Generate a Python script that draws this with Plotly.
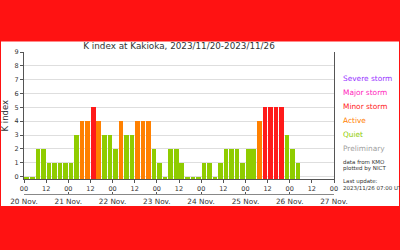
import plotly.graph_objects as go
import pandas as pd

# ---------------- data ----------------
period_start = "2023-11-20 00:00"
period_end = "2023-11-27 00:00"
k_nov20 = [0, 0, 2, 2, 1, 1, 1, 1]
k_nov21 = [1, 3, 4, 4, 5, 4, 3, 3]
k_nov22 = [2, 4, 3, 3, 4, 4, 4, 2]
k_nov23 = [1, 0, 2, 2, 1, 0, 0, 0]
k_nov24 = [1, 1, 0, 1, 2, 2, 2, 1]
k_nov25 = [2, 2, 4, 5, 5, 5, 5, 3]
k_nov26 = [2, 1]
k_values = k_nov20 + k_nov21 + k_nov22 + k_nov23 + k_nov24 + k_nov25 + k_nov26

hour_ticks = pd.date_range(period_start, period_end, freq="12h")
hour_labels = ["00", "12"] * 7 + ["00"]

day_ticks = ["2023-11-20", "2023-11-21", "2023-11-22", "2023-11-23",
             "2023-11-24", "2023-11-25", "2023-11-26", "2023-11-27"]
day_labels = ["20 Nov.", "21 Nov.", "22 Nov.", "23 Nov.",
              "24 Nov.", "25 Nov.", "26 Nov.", "27 Nov."]

level_names = ["Severe storm", "Major storm", "Minor storm", "Active", "Quiet", "Preliminary"]
level_colors = ["#9933ff", "#ff22bb", "#ff1a1a", "#ff8000", "#8fcc00", "#a0a0a0"]
notes = ["data from KMO", "plotted by NICT", "Last update:", "2023/11/26 07:00 UT"]
title_text = "K index at Kakioka, 2023/11/20-2023/11/26"
y_title = "K index"
y_floor = -0.2

# ---------------- helpers ----------------
def k_color(k):
    if k >= 8:
        return level_colors[0]
    if k >= 6:
        return level_colors[1]
    if k == 5:
        return level_colors[2]
    if k == 4:
        return level_colors[3]
    return level_colors[4]

slot_start = pd.date_range(period_start, periods=len(k_values), freq="3h")
slot_mid = slot_start + pd.Timedelta(minutes=90)

W, H = 400, 250
L, R, T, B = 24, 66, 52, 56
pw, ph = W - L - R, H - T - B


def px_x(x):
    return (x - L) / pw


def px_y(y):
    return (H - B - y) / ph


FONT = "DejaVu Sans"
TXT = "#333333"
AX = "#555555"
GRID = "#dedede"

fig = go.Figure()
fig.add_trace(go.Bar(
    x=slot_mid,
    y=[k - y_floor for k in k_values],
    base=y_floor,
    width=2.5 * 3600 * 1000,
    marker=dict(color=[k_color(k) for k in k_values], line=dict(width=0)),
    showlegend=False,
    hoverinfo="skip",
))
# invisible trace so that the date strip subplot exists
fig.add_trace(go.Scatter(x=[period_start], y=[0.5], xaxis="x2", yaxis="y2",
                         mode="markers", marker=dict(opacity=0), showlegend=False,
                         hoverinfo="skip"))

main_bottom = px_y(179.3)

fig.update_layout(
    width=W, height=H, autosize=False,
    margin=dict(l=L, r=R, t=T, b=B, pad=0, autoexpand=False),
    paper_bgcolor="#ff1212",
    plot_bgcolor="white",
    font=dict(family=FONT, color=TXT),
    bargap=0,
    title=dict(text=title_text, x=0.5, xref="paper", xanchor="center",
               y=1 - 46 / H, yref="container", yanchor="middle",
               font=dict(size=8.8, color=TXT, family=FONT)),
    xaxis=dict(
        type="date", range=[period_start, period_end], automargin=False,
        domain=[0, 1], anchor="y",
        tickvals=hour_ticks, ticktext=hour_labels,
        ticks="outside", ticklen=3, tickcolor=AX,
        showline=True, linecolor=AX, linewidth=1,
        showgrid=False, zeroline=False,
        tickfont=dict(size=6.5, color=TXT),
    ),
    xaxis3=dict(
        type="date", range=[period_start, period_end], automargin=False,
        overlaying="x", side="top", anchor="y",
        tick0=period_start, dtick=24 * 3600 * 1000,
        ticks="inside", ticklen=3, tickcolor=AX,
        minor=dict(tick0=period_start, dtick=3 * 3600 * 1000, ticks="inside",
                   ticklen=2, tickcolor=AX, showgrid=False),
        showticklabels=False,
        showline=True, linecolor=AX, linewidth=1,
        showgrid=True, gridcolor=GRID, gridwidth=1, zeroline=False,
    ),
    yaxis=dict(
        domain=[main_bottom, 1], anchor="x", automargin=False,
        range=[y_floor, 9], tick0=0, dtick=1,
        ticks="outside", ticklen=3, tickcolor=AX,
        showline=True, linecolor=AX, linewidth=1, mirror=True,
        showgrid=True, gridcolor=GRID, gridwidth=1, zeroline=False,
        tickfont=dict(size=6.5, color=TXT),
        title=dict(text=y_title, font=dict(size=8.5, color=TXT), standoff=4),
    ),
    xaxis2=dict(
        type="date", range=[period_start, period_end], automargin=False,
        anchor="y2", domain=[0, 1],
        tickvals=day_ticks, ticktext=day_labels,
        ticks="inside", ticklen=2, tickcolor=AX,
        showline=True, linecolor="#888888", linewidth=1,
        showgrid=False, zeroline=False,
        tickfont=dict(size=7.3, color=TXT),
    ),
    yaxis2=dict(domain=[0, 0.01], anchor="x2", range=[0, 1], automargin=False,
                showticklabels=False, showline=False, showgrid=False,
                zeroline=False, ticks=""),
)

fig.add_shape(type="rect", xref="paper", yref="paper",
              x0=px_x(1), x1=px_x(399), y0=px_y(206), y1=px_y(41.5),
              fillcolor="white", line=dict(width=0), layer="below")

legend_y = [78.3, 92.3, 106.2, 120.2, 134.2, 148.3]
for name, col, yy in zip(level_names, level_colors, legend_y):
    fig.add_annotation(text=name, xref="paper", yref="paper",
                       x=px_x(340.5), y=px_y(yy), xanchor="left", yanchor="middle",
                       showarrow=False, font=dict(size=7.4, color=col, family=FONT))

notes_y = [162.3, 168.5, 181.7, 187.6]
for note, yy in zip(notes, notes_y):
    fig.add_annotation(text=note, xref="paper", yref="paper",
                       x=px_x(340.5), y=px_y(yy), xanchor="left", yanchor="middle",
                       showarrow=False, font=dict(size=5.5, color=TXT, family=FONT))

fig.write_html("out.html")
